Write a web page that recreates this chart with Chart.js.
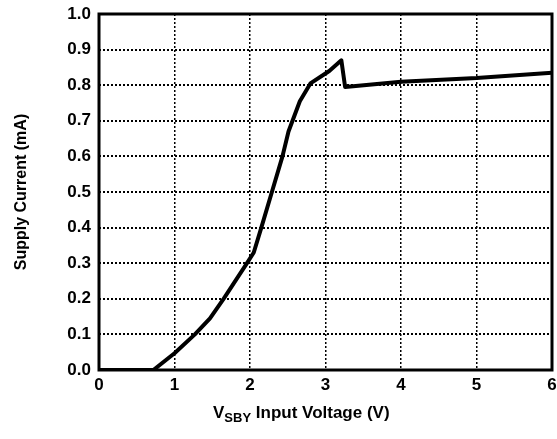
<!DOCTYPE html>
<html>
<head>
<meta charset="utf-8">
<script src="https://cdn.jsdelivr.net/npm/chart.js@4"></script>
<style>
  body { margin: 0; background: #fff; }
  #wrap { position: relative; width: 557px; height: 439px; }
  #xTitle {
    position: absolute; left: 213px; top: 403px;
    font: bold 17px "Liberation Sans", Arial, sans-serif; color: #000;
    white-space: nowrap;
  }
  #xTitle sub { font-size: 13px; vertical-align: -4px; }
</style>
</head>
<body>
<div id="wrap">
  <canvas id="chart" width="557" height="439"></canvas>
  <div id="xTitle">V<sub>SBY</sub> Input Voltage (V)</div>
</div>
<script>
// supply current vs standby input voltage
const voltage = [0, 0.72, 1.0, 1.27, 1.47, 1.65, 1.96, 2.05, 2.15, 2.29, 2.43, 2.51, 2.66, 2.8, 3.05, 3.21, 3.26, 4.0, 5.0, 6.0];
const current = [0, 0, 0.047, 0.1, 0.145, 0.2, 0.3, 0.33, 0.4, 0.5, 0.6, 0.67, 0.755, 0.805, 0.84, 0.87, 0.795, 0.81, 0.82, 0.835];
const xTicks = [0, 1, 2, 3, 4, 5, 6];
const yTicks = [0, 0.1, 0.2, 0.3, 0.4, 0.5, 0.6, 0.7, 0.8, 0.9, 1.0];

const font = { family: '"Liberation Sans", Arial, sans-serif', size: 17, weight: 'bold' };

// full black frame around plot
const frame = {
  id: 'frame',
  afterDraw(c) {
    const a = c.chartArea, ctx = c.ctx;
    ctx.save();
    ctx.strokeStyle = '#000';
    ctx.lineWidth = 3;
    ctx.strokeRect(a.left, a.top, a.right - a.left, a.bottom - a.top);
    ctx.restore();
  }
};

new Chart(document.getElementById('chart'), {
  type: 'line',
  data: {
    datasets: [{
      data: voltage.map((v, i) => ({ x: v, y: current[i] })),
      borderColor: '#000',
      borderWidth: 4,
      pointRadius: 0,
      tension: 0,
      borderJoinStyle: 'round',
      borderCapStyle: 'round'
    }]
  },
  options: {
    responsive: false,
    animation: false,
    layout: { padding: { top: 14, right: 5, left: 0, bottom: 0 } },
    plugins: { legend: { display: false }, tooltip: { enabled: false } },
    scales: {
      x: {
        type: 'linear', min: 0, max: 6,
        afterBuildTicks: s => { s.ticks = xTicks.map(v => ({ value: v })); },
        afterFit: s => { s.height = 69; s.paddingLeft = 0; s.paddingRight = 0; },
        ticks: { color: '#000', font: font, padding: 5, maxRotation: 0 },
        grid: { color: '#000', lineWidth: 1.5, drawTicks: false },
        border: { display: false, dash: [2, 2] }
      },
      y: {
        type: 'linear', min: 0, max: 1,
        afterBuildTicks: s => { s.ticks = yTicks.map(v => ({ value: v })); },
        afterFit: s => { s.width = 99; s.paddingTop = 0; s.paddingBottom = 0; },
        ticks: { color: '#000', font: font, padding: 8, callback: v => v.toFixed(1) },
        grid: { color: '#000', lineWidth: 2, drawTicks: false },
        border: { display: false, dash: [2, 2] },
        title: {
          display: true, text: 'Supply Current (mA)', color: '#000',
          font: { family: font.family, size: 16, weight: 'bold' },
          padding: { top: 12, bottom: 0 }
        }
      }
    }
  },
  plugins: [frame]
});
</script>
</body>
</html>
